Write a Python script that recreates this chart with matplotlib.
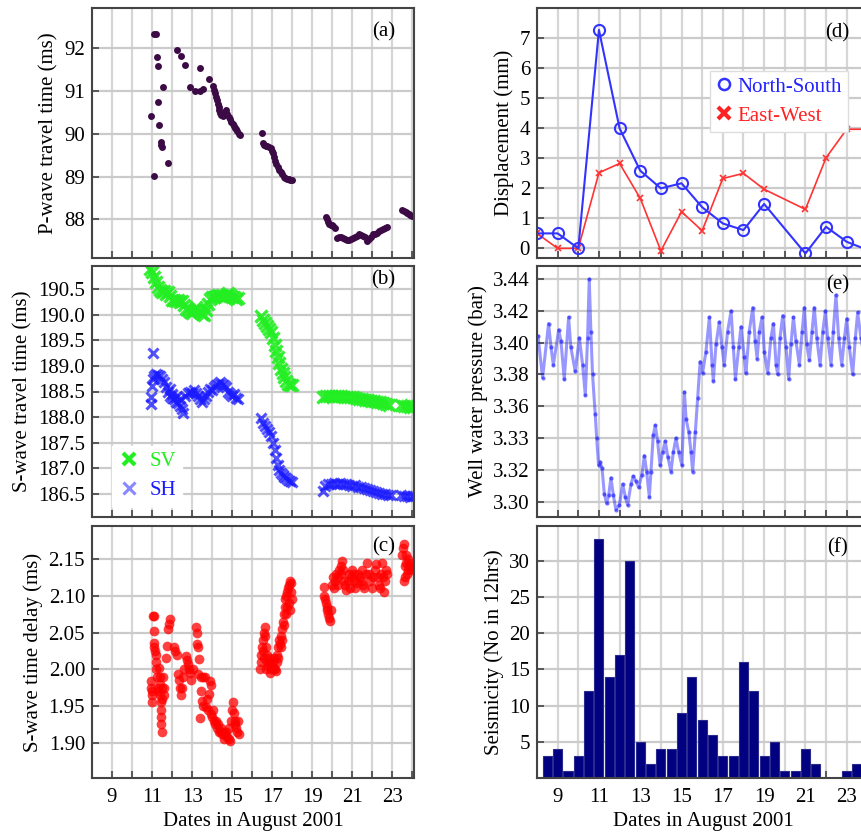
import matplotlib
matplotlib.use("Agg")
import matplotlib.pyplot as plt
from matplotlib.lines import Line2D
from matplotlib.ticker import FixedLocator, MultipleLocator, FormatStrFormatter, FixedFormatter
from matplotlib.transforms import blended_transform_factory

plt.rcParams['font.family'] = ['Liberation Serif', 'DejaVu Serif']
plt.rcParams['font.size'] = 15

# ---- data ----
XLIM = (8.0, 24.08)
XTICKS = [9, 11, 13, 15, 17, 19, 21, 23]

# (a) P-wave travel time
p_days = [11.1, 11.2, 11.25, 11.28, 11.55, 11.32, 10.97, 11.37, 11.44, 11.47, 11.5, 11.78, 11.08,
          12.25, 12.45, 12.62, 12.87, 13.15, 13.38, 13.55, 13.38, 13.82,
          14.02, 14.07, 14.12, 14.17, 14.22, 14.27, 14.32, 14.36, 14.4, 14.45, 14.52, 14.58, 14.65,
          14.7, 14.75, 14.82, 14.88, 14.95, 15.02, 15.08, 15.14, 15.2, 15.26, 15.32, 15.37,
          16.48, 16.53, 16.6, 16.68, 16.76, 16.84, 16.92, 17.0, 17.05, 17.1, 17.15, 17.2, 17.27,
          17.34, 17.42, 17.5, 17.58, 17.66, 17.74, 17.82, 17.9, 17.97,
          19.7, 19.75, 19.8, 19.86, 19.92, 19.98, 20.05, 20.12, 20.25, 20.35, 20.45, 20.55, 20.65,
          20.75, 20.85, 20.95, 21.05, 21.15, 21.25, 21.35, 21.45, 21.55, 21.65, 21.75, 21.85, 21.95,
          22.05, 22.15, 22.25, 22.35, 22.45, 22.55, 22.65, 22.72,
          23.5, 23.58, 23.66, 23.74, 23.82, 23.9, 23.98]
p_time = [92.33, 92.33, 91.78, 91.58, 91.09, 90.74, 90.42, 90.19, 89.8, 89.74, 89.68, 89.32, 89.02,
          91.96, 91.8, 91.59, 91.09, 91.0, 91.0, 91.03, 91.53, 91.27,
          91.1, 91.02, 90.95, 90.86, 90.78, 90.7, 90.62, 90.55, 90.47, 90.43, 90.42, 90.44, 90.5,
          90.55, 90.45, 90.38, 90.33, 90.28, 90.22, 90.17, 90.13, 90.1, 90.05, 90.0, 89.96,
          90.01, 89.78, 89.73, 89.72, 89.72, 89.7, 89.67, 89.6, 89.55, 89.45, 89.36, 89.3, 89.22,
          89.16, 89.1, 89.05, 89.0, 88.97, 88.95, 88.94, 88.93, 88.92,
          88.06, 88.0, 87.94, 87.9, 87.88, 87.86, 87.84, 87.8, 87.56, 87.6, 87.58, 87.57, 87.55,
          87.53, 87.52, 87.54, 87.57, 87.6, 87.62, 87.66, 87.63, 87.62, 87.58, 87.5, 87.55, 87.6,
          87.65, 87.67, 87.68, 87.72, 87.75, 87.77, 87.8, 87.82,
          88.22, 88.2, 88.17, 88.14, 88.12, 88.1, 88.08]

# (b) S-wave travel time, SV and SH
sv_days = [10.9, 11.0, 11.1, 11.2, 11.3, 11.4, 11.5, 11.6, 11.7, 11.8, 11.9, 12.0, 12.1, 12.2, 12.3,
           12.4, 12.5, 12.6, 12.7, 12.8, 12.9, 13.0, 13.1, 13.2, 13.3, 13.4, 13.5, 13.6, 13.7, 13.8,
           13.9, 14.0, 14.1, 14.2, 14.3, 14.4, 14.5, 14.6, 14.7, 14.8, 14.9, 15.0, 15.1, 15.2, 15.3,
           16.45, 16.55, 16.65, 16.75, 16.85, 16.95, 17.05, 17.12, 17.2, 17.28, 17.36, 17.44, 17.52,
           17.6, 17.7, 17.8, 17.9, 17.98,
           19.55, 19.7, 19.85, 20.0, 20.15, 20.3, 20.45, 20.6, 20.75, 20.9, 21.05, 21.2, 21.35, 21.5,
           21.65, 21.8, 21.95, 22.1, 22.25, 22.4, 22.55, 22.7, 22.85,
           23.45, 23.6, 23.75, 23.9, 24.05]
sv_time = [190.91, 190.85, 190.75, 190.65, 190.55, 190.48, 190.45, 190.47, 190.42, 190.45, 190.38,
           190.3, 190.3, 190.28, 190.3, 190.25, 190.27, 190.2, 190.12, 190.1, 190.05, 190.03, 190.1,
           190.15, 190.1, 190.05, 190.02, 190.0, 190.1, 190.22, 190.32, 190.36, 190.35, 190.38, 190.4,
           190.38, 190.4, 190.36, 190.4, 190.44, 190.4, 190.35, 190.36, 190.32, 190.33,
           189.98, 189.9, 189.85, 189.78, 189.72, 189.66, 189.55, 189.42, 189.3, 189.18, 189.06,
           188.95, 188.86, 188.78, 188.7, 188.65, 188.62, 188.62,
           188.4, 188.42, 188.42, 188.41, 188.42, 188.41, 188.42, 188.4, 188.4, 188.39, 188.39,
           188.37, 188.36, 188.35, 188.34, 188.34, 188.32, 188.32, 188.3, 188.29, 188.27, 188.26, 188.24,
           188.23, 188.22, 188.22, 188.2, 188.2]
sh_days = [10.93, 10.95, 11.0, 11.05, 11.05, 11.1, 11.2, 11.3, 11.4, 11.5, 11.6, 11.7, 11.8, 11.9,
           12.0, 12.1, 12.2, 12.3, 12.4, 12.5, 12.55, 11.9, 12.0, 12.2, 12.4,
           12.65, 12.8, 12.9, 13.0, 13.1, 13.2, 13.3, 13.4, 13.5, 13.6, 13.7, 13.8, 13.9, 14.0, 14.1,
           14.2, 14.3, 14.4, 14.5, 14.6, 14.7, 14.8, 14.9, 15.0, 15.1, 15.2, 15.3,
           16.45, 16.55, 16.65, 16.75, 16.85, 16.95, 17.05, 17.12, 17.2, 17.28, 17.36, 17.44, 17.52,
           17.6, 17.7, 17.8, 17.9, 17.98,
           19.55, 19.65, 19.8, 19.95, 20.1, 20.25, 20.4, 20.55, 20.7, 20.85, 21.0, 21.15, 21.3, 21.45,
           21.6, 21.75, 21.9, 22.05, 22.2, 22.35, 22.5, 22.65, 22.8, 22.92,
           23.45, 23.6, 23.75, 23.9, 24.05]
sh_time = [188.25, 188.4, 188.6, 188.75, 189.25, 188.8, 188.85, 188.82, 188.8, 188.75, 188.68, 188.58,
           188.5, 188.42, 188.38, 188.35, 188.3, 188.28, 188.22, 188.15, 188.08, 188.55, 188.45,
           188.4, 188.35,
           188.42, 188.48, 188.5, 188.48, 188.52, 188.48, 188.42, 188.35, 188.3, 188.35, 188.42,
           188.5, 188.55, 188.52, 188.58, 188.62, 188.65, 188.68, 188.65, 188.62, 188.58, 188.5,
           188.45, 188.42, 188.45, 188.38, 188.35,
           187.98, 187.88, 187.82, 187.76, 187.7, 187.62, 187.5, 187.36, 187.2, 187.06, 186.96,
           186.9, 186.86, 186.83, 186.8, 186.77, 186.74, 186.72,
           186.55, 186.65, 186.68, 186.69, 186.7, 186.69, 186.7, 186.68, 186.68, 186.66, 186.65,
           186.66, 186.63, 186.62, 186.6, 186.58, 186.56, 186.55, 186.53, 186.52, 186.5, 186.49,
           186.48, 186.47,
           186.48, 186.45, 186.46, 186.44, 186.45]

# (c) S-wave time delay
c_days = [10.95, 10.97, 10.98, 11.0, 11.02, 11.05, 11.12, 11.1, 11.1, 11.12, 11.15, 11.18, 11.2,
          11.22, 11.25, 11.28, 11.3, 11.35, 11.38, 11.4, 11.42, 11.44, 11.45, 11.46, 11.47, 11.48,
          11.5, 11.52, 11.55, 11.6, 11.62, 11.7, 11.75, 11.82, 11.87, 11.9, 12.1, 12.15, 12.25,
          12.28, 12.35, 12.41, 12.45, 12.5, 12.55, 12.6, 12.69, 12.75, 12.8, 12.85, 12.9, 12.93,
          13.05, 13.18, 13.22, 13.25, 13.3, 13.34, 13.3, 13.43, 13.55, 13.65, 13.9, 13.95, 13.46,
          13.5, 13.55, 13.39, 13.67, 13.72, 13.84, 13.8, 13.92, 14.0, 14.08, 14.15, 14.2, 14.25,
          14.33, 14.41, 14.5, 14.57, 14.65, 14.74, 14.82, 14.9, 14.85, 14.95, 15.0, 15.03, 15.08,
          15.12, 15.15, 15.2, 15.26, 15.3, 15.36, 14.05, 14.3, 14.45, 14.6, 14.7,
          16.4, 16.42, 16.45, 16.5, 16.54, 16.58, 16.62, 16.65, 16.68, 16.72, 16.76, 16.8, 16.85,
          16.9, 16.95, 17.0, 17.05, 17.1, 17.15, 17.2, 17.22, 17.25, 17.3, 17.35, 17.4, 17.45, 17.5,
          17.55, 17.58, 17.62, 17.65, 17.7, 17.74, 17.78, 17.82, 17.88, 17.92, 17.95, 17.98, 17.9,
          17.85, 17.75, 17.68, 17.6, 17.5, 17.42, 17.3, 16.55, 16.6, 16.7, 16.9, 17.1,
          19.57, 19.6, 19.64, 19.68, 19.72, 19.76, 19.8, 19.85, 19.9, 19.95, 20.0, 20.05, 20.1,
          20.15, 20.2, 20.28, 20.35, 20.42, 20.5, 20.55, 20.6, 20.65, 20.7, 20.78, 20.85, 20.92,
          21.0, 21.08, 21.15, 21.22, 21.3, 21.38, 21.45, 21.52, 21.6, 21.68, 21.75, 21.82, 21.9,
          21.98, 22.05, 22.12, 22.2, 22.28, 22.35, 22.42, 22.5, 22.55, 22.6, 22.65, 22.7, 22.75,
          20.3, 20.9, 21.5, 22.4, 20.45, 21.1,
          23.5, 23.55, 23.6, 23.62, 23.65, 23.68, 23.72, 23.76, 23.8, 23.85, 23.9, 23.95, 24.02,
          23.6, 23.7]
c_delay = [1.975, 1.984, 1.965, 1.955, 1.97, 2.073, 2.073, 2.052, 2.036, 2.03, 2.025, 2.02, 2.01,
           2.0, 1.99, 1.97, 1.975, 2.002, 1.99, 1.98, 1.965, 1.955, 1.945, 1.935, 1.925, 1.915,
           1.96, 1.975, 1.99, 1.975, 1.965, 2.016, 2.032, 2.055, 2.061, 2.068, 2.03, 2.025, 2.02,
           1.993, 1.985, 1.975, 1.965, 1.975, 1.99, 2.0, 2.018, 2.012, 2.007, 2.0, 1.995, 1.986,
           2.0, 2.057, 2.05, 2.034, 2.03, 2.014, 1.993, 1.99, 1.99, 1.99, 1.984, 1.978, 1.97,
           1.957, 1.95, 1.934, 1.948, 1.96, 1.966, 1.945, 1.939, 1.935, 1.93, 1.925, 1.93, 1.92,
           1.915, 1.916, 1.912, 1.914, 1.91, 1.908, 1.905, 1.902, 1.92, 1.93, 1.945, 1.955, 1.94,
           1.93, 1.925, 1.92, 1.915, 1.93, 1.912, 1.945, 1.925, 1.92, 1.905, 1.915,
           2.0, 2.01, 2.02, 2.03, 2.04, 2.05, 2.058, 2.045, 2.03, 2.02, 2.01, 2.005, 2.015,
           2.01, 2.0, 2.005, 2.01, 2.015, 2.0, 1.997, 2.01, 2.02, 2.03, 2.04, 2.035, 2.045, 2.055,
           2.065, 2.075, 2.085, 2.095, 2.1, 2.105, 2.11, 2.115, 2.12, 2.118, 2.105, 2.095, 2.08,
           2.09, 2.085, 2.075, 2.06, 2.04, 2.03, 2.015, 2.025, 2.015, 2.0, 1.995, 2.0,
           2.1, 2.112, 2.095, 2.09, 2.085, 2.08, 2.075, 2.07, 2.066, 2.08, 2.115, 2.125, 2.11,
           2.12, 2.13, 2.125, 2.135, 2.14, 2.148, 2.135, 2.12, 2.115, 2.108, 2.12, 2.13, 2.125,
           2.135, 2.12, 2.11, 2.118, 2.13, 2.125, 2.12, 2.115, 2.11, 2.13, 2.145, 2.13, 2.12,
           2.11, 2.125, 2.135, 2.143, 2.125, 2.115, 2.13, 2.145, 2.125, 2.105, 2.12, 2.135, 2.13,
           2.115, 2.11, 2.135, 2.11, 2.13, 2.13,
           2.155, 2.165, 2.17, 2.14, 2.125, 2.145, 2.13, 2.135, 2.15, 2.14, 2.145, 2.135, 2.14,
           2.12, 2.155]

# (d) displacement
gps_days = [8, 9, 10, 11, 12, 13, 14, 15, 16, 17, 18, 19, 21, 22, 23, 24]
ns_disp = [0.5, 0.5, 0.0, 7.28, 4.0, 2.59, 2.0, 2.17, 1.37, 0.83, 0.61, 1.48, -0.17, 0.72, 0.22, -0.05]
ew_disp = [0.5, 0.0, 0.0, 2.52, 2.83, 1.67, -0.08, 1.22, 0.59, 2.33, 2.5, 1.97, 1.3, 3.02, 3.97, 3.97]

# (e) well water pressure
well_days = [8.05, 8.27, 8.56, 8.68, 8.79, 9.05, 9.16, 9.32, 9.53, 9.64, 9.85, 10.05, 10.21, 10.34,
             10.45, 10.53, 10.61, 10.69, 10.82, 10.89, 10.98, 11.05, 11.15, 11.26, 11.37, 11.47,
             11.58, 11.7, 11.82, 11.99, 12.15, 12.28, 12.39, 12.55, 12.66, 12.79, 12.92, 13.08,
             13.2, 13.31, 13.44, 13.52, 13.63, 13.73, 13.84, 13.96, 14.08, 14.21, 14.34, 14.49,
             14.6, 14.73, 14.86, 15.02, 15.14, 15.22, 15.35, 15.46, 15.54, 15.67, 15.78, 15.9,
             16.02, 16.18, 16.35, 16.48, 16.54, 16.67, 16.83, 16.96, 17.07, 17.23, 17.4, 17.51,
             17.61, 17.77, 17.88, 18.04, 18.12, 18.28, 18.45, 18.57, 18.66, 18.77, 18.9, 19.01,
             19.17, 19.33, 19.45, 19.58, 19.66, 19.77, 19.9, 20.06, 20.19, 20.3, 20.42, 20.54,
             20.71, 20.84, 20.95, 21.06, 21.19, 21.32, 21.43, 21.55, 21.71, 21.84, 21.97, 22.08,
             22.24, 22.35, 22.48, 22.61, 22.76, 22.89, 23.0, 23.13, 23.29, 23.42, 23.53, 23.69,
             23.85, 24.0]
well_bar = [3.404, 3.378, 3.412, 3.397, 3.386, 3.408, 3.401, 3.377, 3.416, 3.397, 3.382, 3.403,
            3.386, 3.367, 3.403, 3.44, 3.407, 3.38, 3.355, 3.34, 3.323, 3.325, 3.321, 3.305, 3.299,
            3.304, 3.315, 3.304, 3.295, 3.298, 3.311, 3.303, 3.298, 3.311, 3.316, 3.313, 3.309,
            3.317, 3.329, 3.319, 3.303, 3.319, 3.342, 3.348, 3.338, 3.323, 3.331, 3.338, 3.328,
            3.319, 3.331, 3.34, 3.331, 3.323, 3.369, 3.352, 3.344, 3.331, 3.319, 3.344, 3.365, 3.388,
            3.381, 3.394, 3.416, 3.386, 3.376, 3.399, 3.413, 3.397, 3.386, 3.407, 3.42, 3.397,
            3.377, 3.397, 3.41, 3.391, 3.381, 3.407, 3.422, 3.401, 3.39, 3.407, 3.416, 3.394,
            3.381, 3.403, 3.412, 3.386, 3.38, 3.403, 3.417, 3.397, 3.377, 3.399, 3.416, 3.401,
            3.386, 3.407, 3.422, 3.399, 3.389, 3.407, 3.422, 3.403, 3.386, 3.407, 3.42, 3.403,
            3.386, 3.407, 3.43, 3.403, 3.386, 3.403, 3.415, 3.397, 3.38, 3.403, 3.419, 3.403,
            3.39, 3.4]
well_ticks = [3.30, 3.32, 3.34, 3.36, 3.38, 3.40, 3.42, 3.44]
well_labels = ['3.30', '3.32', '3.33', '3.36', '3.38', '3.40', '3.42', '3.44']

# (f) seismicity per 12 h
seis_days = [8.5, 9.0, 9.5, 10.0, 10.5, 11.0, 11.5, 12.0, 12.5, 13.0, 13.5, 14.0, 14.5, 15.0, 15.5,
             16.0, 16.5, 17.0, 17.5, 18.0, 18.5, 19.0, 19.5, 20.0, 20.5, 21.0, 21.5, 22.0, 22.5,
             23.0, 23.5]
seis_count = [3, 4, 1, 3, 12, 33, 14, 17, 30, 5, 2, 4, 4, 9, 14, 8, 6, 3, 3, 16, 12, 3, 5, 1, 1,
              4, 2, 0, 0, 1, 2]


def style(ax, ylim, yticks, ylabel, tag, tag_y, xlabels=False):
    ax.set_xlim(*XLIM)
    ax.set_ylim(*ylim)
    ax.xaxis.set_major_locator(FixedLocator(XTICKS))
    ax.xaxis.set_minor_locator(MultipleLocator(1))
    ax.set_yticks(yticks)
    ax.grid(True, which='both', axis='x', color='#d6d6d6', lw=1.6)
    ax.grid(True, which='major', axis='y', color='#cbcbcb', lw=1.6)
    ax.set_axisbelow(True)
    ax.tick_params(which='both', direction='in', length=5, width=1.2, color='#444444',
                   labelsize=15)
    ax.tick_params(axis='x', pad=7)
    ax.tick_params(axis='y', pad=5)
    for s in ax.spines.values():
        s.set_color('#444444')
        s.set_linewidth(1.5)
    if xlabels:
        ax.set_xlabel('Dates in August 2001', fontsize=15)
    else:
        ax.tick_params(labelbottom=False)
    ax.set_ylabel(ylabel, fontsize=15)
    tr = blended_transform_factory(ax.transData, ax.transAxes)
    ax.text(22.55, tag_y, tag, transform=tr, ha='center', va='center', fontsize=15)


fig = plt.figure(figsize=(8.61, 8.35), dpi=100)
W, H = 861.0, 835.0
lx, lw = 92 / W, 322 / W
rx, rw = 537 / W, 332 / W
rows = [(1 - 258 / H, 250 / H), (1 - 517 / H, 251 / H), (1 - 778 / H, 252 / H)]

ax_a = fig.add_axes([lx, rows[0][0], lw, rows[0][1]])
ax_b = fig.add_axes([lx, rows[1][0], lw, rows[1][1]])
ax_c = fig.add_axes([lx, rows[2][0], lw, rows[2][1]])
ax_d = fig.add_axes([rx, rows[0][0], rw, rows[0][1]])
ax_e = fig.add_axes([rx, rows[1][0], rw, rows[1][1]])
ax_f = fig.add_axes([rx, rows[2][0], rw, rows[2][1]])

# (a)
ax_a.plot(p_days, p_time, 'o', color='#3c0b46', ms=5, mew=0)
style(ax_a, (87.1, 92.93), [88, 89, 90, 91, 92], 'P-wave travel time (ms)', '(a)', 0.904)

# (b)
ax_b.plot(sv_days, sv_time, 'x', color='#22ee22', ms=8, mew=2.4, alpha=0.9)
ax_b.plot(sh_days, sh_time, 'x', color='#1a1aff', ms=7.5, mew=2.2, alpha=0.75)
style(ax_b, (186.04, 190.96), [186.5, 187.0, 187.5, 188.0, 188.5, 189.0, 189.5, 190.0, 190.5],
      'S-wave travel time (ms)', '(b)', 0.944)
ax_b.yaxis.set_major_formatter(FormatStrFormatter('%.1f'))
hb = [Line2D([], [], ls='none', marker='x', color='#22ee22', ms=9, mew=3),
      Line2D([], [], ls='none', marker='x', color='#3a3aff', ms=9, mew=2.2, alpha=0.6)]
leg_b = ax_b.legend(hb, ['SV', 'SH'], loc='lower left', bbox_to_anchor=(0.03, 0.0),
                    frameon=True, framealpha=1, edgecolor='white', fancybox=False,
                    handlelength=1.0, handletextpad=0.5, borderpad=0.3, labelspacing=0.45,
                    fontsize=15)
for t, c in zip(leg_b.get_texts(), ['#22ee22', '#1a1aff']):
    t.set_color(c)

# (c)
ax_c.plot(c_days, c_delay, 'o', color='#ff0000', ms=7, mew=0, alpha=0.75)
style(ax_c, (1.852, 2.195), [1.90, 1.95, 2.00, 2.05, 2.10, 2.15], 'S-wave time delay (ms)',
      '(c)', 0.918, xlabels=True)
ax_c.yaxis.set_major_formatter(FormatStrFormatter('%.2f'))

# (d)
ax_d.plot(gps_days, ew_disp, '-x', color='#ff3333', lw=1.2, ms=5, mew=1.2)
ax_d.plot(gps_days, ns_disp, '-o', color='#3333ff', lw=1.5, ms=8, mew=1.5, mfc='none')
style(ax_d, (-0.32, 8.01), [0, 1, 2, 3, 4, 5, 6, 7], 'Displacement (mm)', '(d)', 0.90)
hd = [Line2D([], [], ls='none', marker='o', color='#3333ff', ms=8, mew=1.8, mfc='none'),
      Line2D([], [], ls='none', marker='x', color='#ff2222', ms=8, mew=3)]
leg_d = ax_d.legend(hd, ['North-South', 'East-West'], loc='upper left',
                    bbox_to_anchor=(0.49, 0.79), frameon=True, framealpha=1,
                    edgecolor='#dddddd', fancybox=False, handlelength=0.7, handletextpad=0.3,
                    borderpad=0.3, labelspacing=0.45, fontsize=15)
leg_d.get_frame().set_linewidth(1.0)
for t, c in zip(leg_d.get_texts(), ['#2222ff', '#ff2222']):
    t.set_color(c)

# (e)
ax_e.plot(well_days, well_bar, '-', color='#1a1aff', lw=2.2, alpha=0.45)
ax_e.plot(well_days, well_bar, 'o', color='#1a1aff', ms=3, mew=0, alpha=0.6)
style(ax_e, (3.2904, 3.4482), well_ticks, 'Well water pressure (bar)', '(e)', 0.924)
ax_e.yaxis.set_major_locator(FixedLocator(well_ticks))
ax_e.yaxis.set_major_formatter(FixedFormatter(well_labels))

# (f)
ax_f.bar(seis_days, seis_count, width=0.44, color='#000080', edgecolor='#2a2a8e', lw=0.8)
style(ax_f, (0, 34.8), [5, 10, 15, 20, 25, 30], 'Seismicity (No in 12hrs)', '(f)', 0.913,
      xlabels=True)

fig.savefig('out.png', dpi=100)
